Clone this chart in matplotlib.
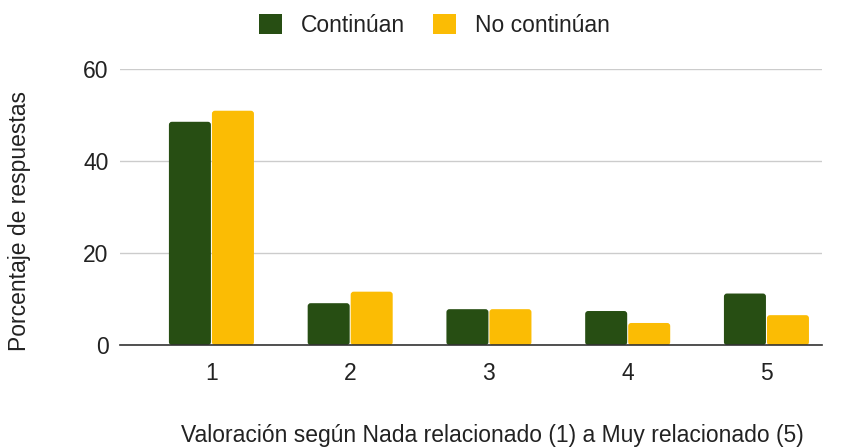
import numpy as np
import matplotlib.pyplot as plt
from matplotlib.patches import FancyBboxPatch, Patch

plt.rcParams['font.family'] = ['Liberation Sans', 'DejaVu Sans']

# -----------------------------
# Data
# -----------------------------

categorias = ["1", "2", "3", "4", "5"]
continuan = [48.5, 9.1, 7.8, 7.4, 11.2]
no_continuan = [50.9, 11.6, 7.8, 4.8, 6.5]

verde = "#274e13"
amarillo = "#fbbc04"
fs = 16.5

# -----------------------------
# Plot
# -----------------------------

fig = plt.figure(figsize=(8.5, 4.47), dpi=100)
ax = fig.add_axes([0.141, 0.228, 0.826, 0.618])

x = np.arange(1, len(categorias) + 1)
w = 0.31

bars1 = ax.bar(x - w / 2, continuan, width=w, color=verde, zorder=3)
bars2 = ax.bar(x + w / 2, no_continuan, width=w, color=amarillo, zorder=3)

ax.set_xlim(0.34, 5.4)
ax.set_ylim(0, 60)

# swap plain rectangles for slightly rounded ones
fig.canvas.draw()
inv = ax.transData.inverted()
px_x = inv.transform((1, 0))[0] - inv.transform((0, 0))[0]
px_y = inv.transform((0, 1))[1] - inv.transform((0, 0))[1]
for bars in (bars1, bars2):
    for b in bars:
        b.set_visible(False)
        bx, by = b.get_x() + px_x * 0.5, b.get_y()
        bw, bh = b.get_width() - px_x, b.get_height()
        r = 3 * px_x
        p = FancyBboxPatch((bx, by), bw, bh,
                           boxstyle=f"round,pad=0,rounding_size={r}",
                           mutation_aspect=px_y / px_x,
                           facecolor=b.get_facecolor(), edgecolor="none",
                           zorder=3)
        ax.add_patch(p)

ax.set_yticks([0, 20, 40, 60])
ax.set_xticks(x)
ax.set_xticklabels(categorias)
ax.tick_params(axis="both", length=0, labelsize=fs, colors="#222222")
ax.tick_params(axis="y", pad=8)
ax.tick_params(axis="x", pad=12)

ax.grid(axis="y", color="#cccccc", linewidth=1, zorder=0)
for s in ["top", "right", "left"]:
    ax.spines[s].set_visible(False)
ax.spines["bottom"].set_color("#333333")
ax.spines["bottom"].set_linewidth(1.2)
ax.spines["bottom"].set_zorder(4)

ax.set_xlabel("Valoración según Nada relacionado (1) a Muy relacionado (5)",
              fontsize=fs, color="#222222")
ax.xaxis.set_label_coords(0.53, -0.285)
ax.set_ylabel("Porcentaje de respuestas", fontsize=fs, color="#222222")
ax.yaxis.set_label_coords(-0.127, 0.45)

handles = [Patch(facecolor=verde, label="Continúan"),
           Patch(facecolor=amarillo, label="No continúan")]
fig.legend(handles=handles, loc="upper center", bbox_to_anchor=(0.511, 1.015),
           ncol=2, frameon=False, fontsize=fs, handlelength=1.0,
           handleheight=1.0, columnspacing=1.25, handletextpad=0.8,
           labelcolor="#222222")

fig.savefig("out.png", dpi=100)
